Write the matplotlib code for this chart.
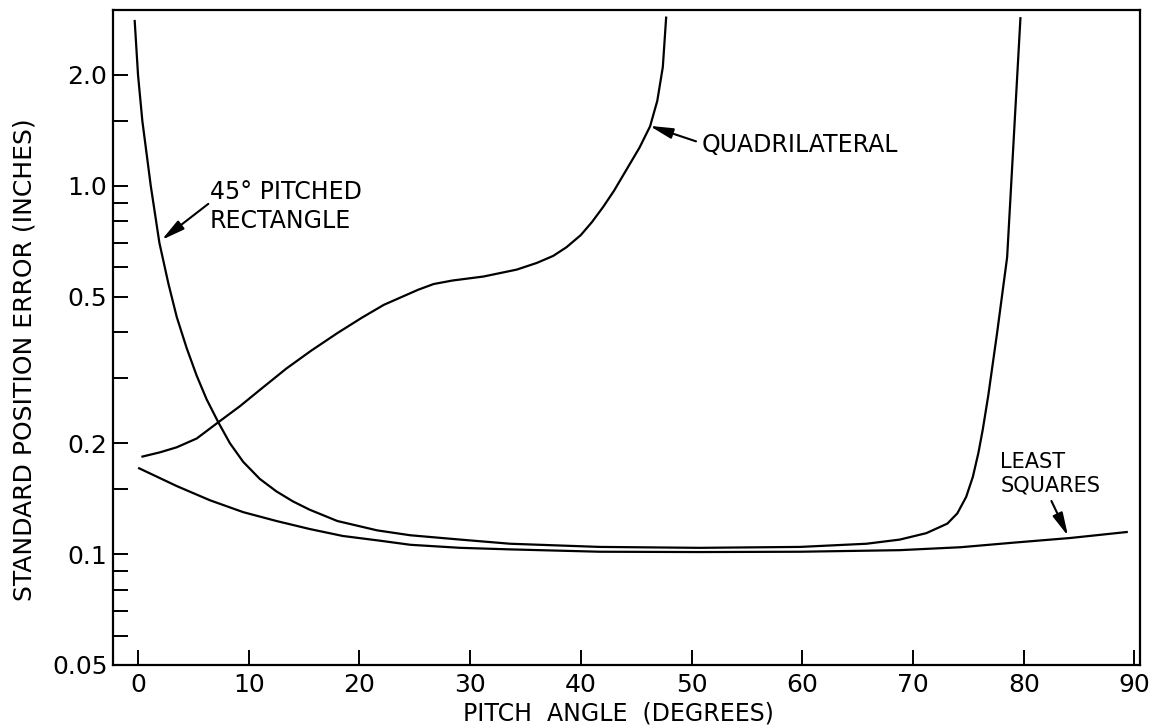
import matplotlib
matplotlib.use('Agg')
import matplotlib.pyplot as plt
from matplotlib.ticker import FixedLocator, NullFormatter

# curves
rect_x = [-0.3, 0.0, 0.39, 1.15, 1.93, 2.74, 3.5, 4.4, 5.3, 6.2, 7.25, 8.3,
          9.5, 11.0, 12.5, 14.0, 15.5, 18.0, 21.6, 24.6, 29.1, 33.6, 41.7,
          50.7, 59.8, 65.8, 68.8, 71.2, 73.1, 74.0, 74.8, 75.4, 75.9, 76.3,
          76.8, 77.6, 78.5, 79.1, 79.7]
rect_y = [2.80, 2.00, 1.50, 1.00, 0.70, 0.543, 0.44, 0.362, 0.305, 0.263,
          0.228, 0.200, 0.178, 0.160, 0.148, 0.139, 0.132, 0.123, 0.116,
          0.1125, 0.1095, 0.1067, 0.1046, 0.104, 0.1046, 0.1067, 0.1095,
          0.114, 0.121, 0.129, 0.143, 0.162, 0.188, 0.218, 0.27, 0.40, 0.64,
          1.35, 2.85]

quad_x = [0.4, 2.0, 3.5, 5.3, 7.25, 9.2, 11.0, 13.4, 15.6, 18.0, 20.2, 22.2,
          25.3, 26.7, 28.4, 31.2, 34.2, 36.0, 37.5, 38.7, 40.0, 41.0, 42.0,
          43.0, 44.15, 45.3, 46.25, 46.9, 47.4, 47.7]
quad_y = [0.184, 0.189, 0.195, 0.206, 0.228, 0.252, 0.279, 0.319, 0.356,
          0.398, 0.438, 0.475, 0.522, 0.541, 0.553, 0.567, 0.592, 0.617,
          0.645, 0.681, 0.735, 0.797, 0.875, 0.97, 1.11, 1.27, 1.45, 1.70,
          2.10, 2.86]

lsq_x = [0.1, 3.5, 6.5, 9.5, 12.5, 15.5, 18.5, 21.6, 24.6, 29.1, 33.6, 41.7,
         50.7, 59.8, 68.8, 74.3, 79.2, 84.2, 89.3]
lsq_y = [0.171, 0.153, 0.140, 0.130, 0.123, 0.117, 0.112, 0.109, 0.106,
         0.104, 0.103, 0.1015, 0.1013, 0.1015, 0.1025, 0.1044, 0.1075,
         0.1106, 0.1148]

x_ticks = [0, 10, 20, 30, 40, 50, 60, 70, 80, 90]
y_major = [0.05, 0.1, 0.2, 0.5, 1.0, 2.0]
y_major_labels = ['0.05', '0.1', '0.2', '0.5', '1.0', '2.0']
y_minor = [0.06, 0.07, 0.08, 0.09, 0.15, 0.3, 0.4, 0.6, 0.7, 0.8, 0.9, 1.5]

W, H = 1158, 728
fig = plt.figure(figsize=(W / 100, H / 100), dpi=100)
ax = fig.add_axes([113 / W, 1 - 665 / H, (1140 - 113) / W, (665 - 10) / H])

for xs, ys in [(rect_x, rect_y), (quad_x, quad_y), (lsq_x, lsq_y)]:
    ax.plot(xs, ys, color='black', lw=1.6, solid_joinstyle='round')

ax.set_yscale('log')
ax.set_xlim(-2.26, 90.5)
ax.set_ylim(0.05, 3.0)

ax.xaxis.set_major_locator(FixedLocator(x_ticks))
ax.yaxis.set_major_locator(FixedLocator(y_major))
ax.yaxis.set_minor_locator(FixedLocator(y_minor))
ax.set_yticklabels(y_major_labels)
ax.yaxis.set_minor_formatter(NullFormatter())
ax.xaxis.set_minor_locator(FixedLocator([]))

ax.tick_params(which='both', direction='in', length=10.8, width=1.4,
               labelsize=18)
ax.tick_params(axis='y', pad=4)
ax.tick_params(axis='x', pad=6)
for s in ax.spines.values():
    s.set_linewidth(1.6)

fig.text(25 / W, 1 - 360 / H, 'STANDARD POSITION ERROR (INCHES)',
         rotation=90, ha='center', va='center', fontsize=18)
fig.text(618 / W, 1 - 713 / H, 'PITCH  ANGLE  (DEGREES)',
         ha='center', va='center', fontsize=17)

arrow = dict(arrowstyle='-|>,head_length=0.7,head_width=0.16',
             color='black', lw=1.5, mutation_scale=20, shrinkA=0, shrinkB=0)

ax.text(6.5, 0.878, '45\u00b0 PITCHED\nRECTANGLE', ha='left', va='center',
        fontsize=17, linespacing=1.25)
ax.annotate('', xy=(2.14, 0.713), xytext=(6.35, 0.893), arrowprops=arrow)

ax.text(50.9, 1.293, 'QUADRILATERAL', ha='left', va='center', fontsize=17)
ax.annotate('', xy=(46.2, 1.454), xytext=(50.4, 1.32), arrowprops=arrow)

ax.text(77.9, 0.1656, 'LEAST\nSQUARES', ha='left', va='center',
        fontsize=15, linespacing=1.2)
ax.annotate('', xy=(84.0, 0.112), xytext=(82.5, 0.1394), arrowprops=arrow)

fig.savefig('out.png', dpi=100)
